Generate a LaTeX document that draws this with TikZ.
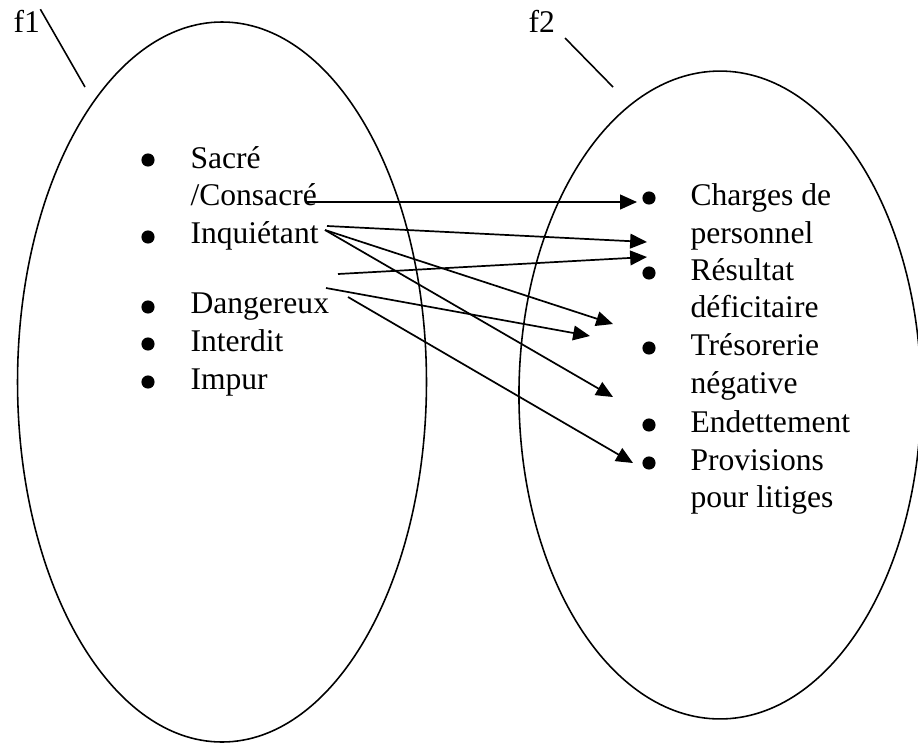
\documentclass[tikz,border=0pt]{standalone}
\usepackage{fontspec}
\setmainfont{Liberation Serif}
\usepackage{tikz}
\usetikzlibrary{shapes.geometric, arrows.meta}

\begin{document}
\begin{tikzpicture}[
    x=0.38pt, y=-0.38pt,
    font=\fontsize{12pt}{14pt}\selectfont,
    set/.style={ellipse, draw, line width=0.6pt, inner sep=0pt},
    item/.style={anchor=base west, inner sep=0pt},
    dot/.style={circle, fill, inner sep=0pt, minimum size=5pt},
    line/.style={draw, line width=0.65pt, -{Triangle[length=6.4pt, width=5.6pt]}}
]
\useasboundingbox (0,0) rectangle (918,743);

% Sets
\node[set, minimum width=155.4pt, minimum height=273.6pt] (setf1) at (222,382) {};
\node[set, minimum width=152.8pt, minimum height=246.2pt] (setf2) at (720,395) {};

% Labels of the sets
\node[item] (f1lab) at (13,32) {f1};
\node[item] (f2lab) at (528,32) {f2};
\coordinate (f1to) at (85,87);
\coordinate (f2from) at (565,38);
\coordinate (f2to) at (613,87);
\draw[line width=0.6pt] (f1lab.north east) -- (f1to);
\draw[line width=0.6pt] (f2from) -- (f2to);

% Left items
\node[dot] (d1) at (148,160) {};
\node[item] (sacre) at (190,168) {Sacré};
\node[item] (consacre) at (190,205) {/Consacré};
\node[dot] (d2) at (148,237) {};
\node[item] (inquietant) at (190,243) {Inquiétant};
\node[dot] (d3) at (148,307) {};
\node[item] (dangereux) at (190,313) {Dangereux};
\node[dot] (d4) at (148,344) {};
\node[item] (interdit) at (190,351) {Interdit};
\node[dot] (d5) at (148,382) {};
\node[item] (impur) at (190,389) {Impur};

% Right items
\node[dot] (r1) at (649,198) {};
\node[item] (charges) at (690,205) {Charges de};
\node[item] (personnel) at (690,243) {personnel};
\node[dot] (r2) at (649,273) {};
\node[item] (resultat) at (690,280) {Résultat};
\node[item] (deficitaire) at (690,317) {déficitaire};
\node[dot] (r3) at (649,348) {};
\node[item] (tresorerie) at (690,355) {Trésorerie};
\node[item] (negative) at (690,393) {négative};
\node[dot] (r4) at (649,425) {};
\node[item] (endettement) at (690,432) {Endettement};
\node[dot] (r5) at (649,463) {};
\node[item] (provisions) at (690,470) {Provisions};
\node[item] (litiges) at (690,507) {pour litiges};

% Arrow ends
\coordinate (s1) at (307,202);
\coordinate (e1) at (637,202);
\coordinate (s2) at (327,226);
\coordinate (e2) at (647,242);
\coordinate (s3) at (325,230);
\coordinate (e3) at (613,324);
\coordinate (e4) at (613,397);
\coordinate (s5) at (338,274);
\coordinate (e5) at (647,257);
\coordinate (s6) at (326,288);
\coordinate (e6) at (590,336);
\coordinate (s7) at (348,297);
\coordinate (e7) at (633,463);

% Connections
\draw[line] (s1) -- (e1);
\draw[line] (s2) -- (e2);
\draw[line] (s3) -- (e3);
\draw[line] (s3) -- (e4);
\draw[line] (s5) -- (e5);
\draw[line] (s6) -- (e6);
\draw[line] (s7) -- (e7);

\end{tikzpicture}
\end{document}
